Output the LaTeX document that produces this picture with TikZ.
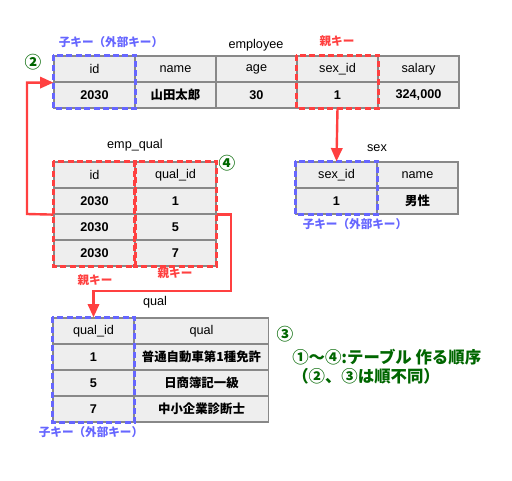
\documentclass[tikz,border=0pt]{standalone}
\usepackage{fontspec}
\setmainfont{Liberation Sans}
\newfontfamily\jp{Noto Sans CJK JP}
\usetikzlibrary{arrows.meta}
\definecolor{cellfill}{HTML}{EEEEEE}
\definecolor{cellline}{HTML}{888888}
\definecolor{keyblue}{HTML}{6666FF}
\definecolor{keyred}{HTML}{FF4040}
\definecolor{ordgreen}{HTML}{006600}
\begin{document}
\begin{tikzpicture}[x=0.75pt,y=-0.75pt,
 cell/.style={draw=cellline, fill=cellfill, line width=0.9pt, minimum width=60.75pt, minimum height=19.5pt, inner sep=0pt, font=\fontsize{9.5}{10}\selectfont},
 val/.style={cell, font=\fontsize{9.5}{10}\selectfont\bfseries},
 jval/.style={cell, font=\fontsize{9.3}{10}\selectfont\jp\bfseries},
 wide/.style={minimum width=100.5pt},
 tabtitle/.style={font=\fontsize{9.5}{10}\selectfont},
 bluekey/.style={text=keyblue, font=\fontsize{8.7}{10}\selectfont\jp\bfseries},
 redkey/.style={text=keyred, font=\fontsize{8.7}{10}\selectfont\jp\bfseries},
 pkbox/.style={draw=keyred, line width=2.2pt, dash pattern=on 4.5pt off 2.5pt},
 fkbox/.style={draw=keyblue, line width=2.2pt, dash pattern=on 4.5pt off 2.5pt},
 link/.style={draw=keyred, line width=1.8pt, -{Triangle[length=10pt,width=8.5pt]}},
 order/.style={text=ordgreen, font=\fontsize{12.3}{13}\selectfont\jp\bfseries, anchor=west, inner sep=0pt},
 num/.style={text=ordgreen, font=\fontsize{12.5}{13}\selectfont\jp\bfseries, inner sep=0pt}]

\useasboundingbox (0,0) rectangle (512,480);

% employee
\node[tabtitle] (t-emp) at (256,45) {employee};
\node[cell] (e-id-h) at (94.5,69) {id};
\node[cell] (e-name-h) at (175.5,69) {name};
\node[cell] (e-age-h) at (256.5,69) {age};
\node[cell] (e-sex-h) at (337.5,69) {sex\_id};
\node[cell] (e-sal-h) at (418.5,69) {salary};
\node[val] (e-id-v) at (94.5,95) {2030};
\node[jval] (e-name-v) at (175.5,95) {山田太郎};
\node[val] (e-age-v) at (256.5,95) {30};
\node[val] (e-sex-v) at (337.5,95) {1};
\node[val] (e-sal-v) at (418.5,95) {324,000};
\node[bluekey] (l-e-fk) at (111,42) {子キー（外部キー）};
\node[redkey] (l-e-pk) at (337,41) {親キー};
\node[num] (n2) at (33,62) {②};

% sex
\node[tabtitle] (t-sex) at (377,148) {sex};
\node[cell] (s-id-h) at (336.5,175) {sex\_id};
\node[cell] (s-name-h) at (417.5,175) {name};
\node[val] (s-id-v) at (336.5,201) {1};
\node[jval] (s-name-v) at (417.5,201) {男性};
\node[bluekey] (l-s-fk) at (355,224) {子キー（外部キー）};

% emp_qual
\node[tabtitle] (t-eq) at (135,145) {emp\_qual};
\node[cell] (eq-id-h) at (94.5,175) {id};
\node[cell] (eq-qid-h) at (175.5,175) {qual\_id};
\node[val] (eq-id-1) at (94.5,201) {2030};
\node[val] (eq-qid-1) at (175.5,201) {1};
\node[val] (eq-id-2) at (94.5,227) {2030};
\node[val] (eq-qid-2) at (175.5,227) {5};
\node[val] (eq-id-3) at (94.5,253) {2030};
\node[val] (eq-qid-3) at (175.5,253) {7};
\node[num] (n4) at (227,163) {④};
\node[redkey] (l-eq-pk1) at (95,280) {親キー};
\node[redkey] (l-eq-pk2) at (175,273) {親キー};

% qual
\node[tabtitle] (t-q) at (155,302) {qual};
\node[cell] (q-id-h) at (93.5,331) {qual\_id};
\node[cell,wide] (q-q-h) at (201.5,331) {qual};
\node[val] (q-id-1) at (93.5,357) {1};
\node[jval,wide] (q-q-1) at (201.5,357) {普通自動車第1種免許};
\node[val] (q-id-2) at (93.5,383) {5};
\node[jval,wide] (q-q-2) at (201.5,383) {日商簿記一級};
\node[val] (q-id-3) at (93.5,409) {7};
\node[jval,wide] (q-q-3) at (201.5,409) {中小企業診断士};
\node[bluekey] (l-q-fk) at (91,432) {子キー（外部キー）};

% order notes
\node[num] (n3) at (285,334) {③};
\node[order] (note1) at (292,357) {①～④:テーブル 作る順序};
\node[order] (note2) at (292,376) {（②、③は順不同）};

% key boxes
\draw[fkbox] (e-id-h.north west) rectangle (e-id-v.south east);
\draw[pkbox] (e-sex-h.north west) rectangle (e-sex-v.south east);
\draw[fkbox] (s-id-h.north west) rectangle (s-id-v.south east);
\draw[pkbox] (eq-id-h.north west) rectangle (eq-id-3.south east);
\draw[pkbox] (eq-qid-h.north west) rectangle (eq-qid-3.south east);
\draw[fkbox] (q-id-h.north west) rectangle (q-id-3.south east);

% links
\coordinate (lft) at (27,214);
\coordinate (rgt) at (231,291);
\draw[link] (e-sex-v.south) -- (s-id-h.north);
\draw[link] (eq-id-1.south west) -- (lft) |- (e-id-h.south west);
\draw[link] (eq-qid-1.south east) -| (rgt) -| (q-id-h.north);
\end{tikzpicture}
\end{document}
